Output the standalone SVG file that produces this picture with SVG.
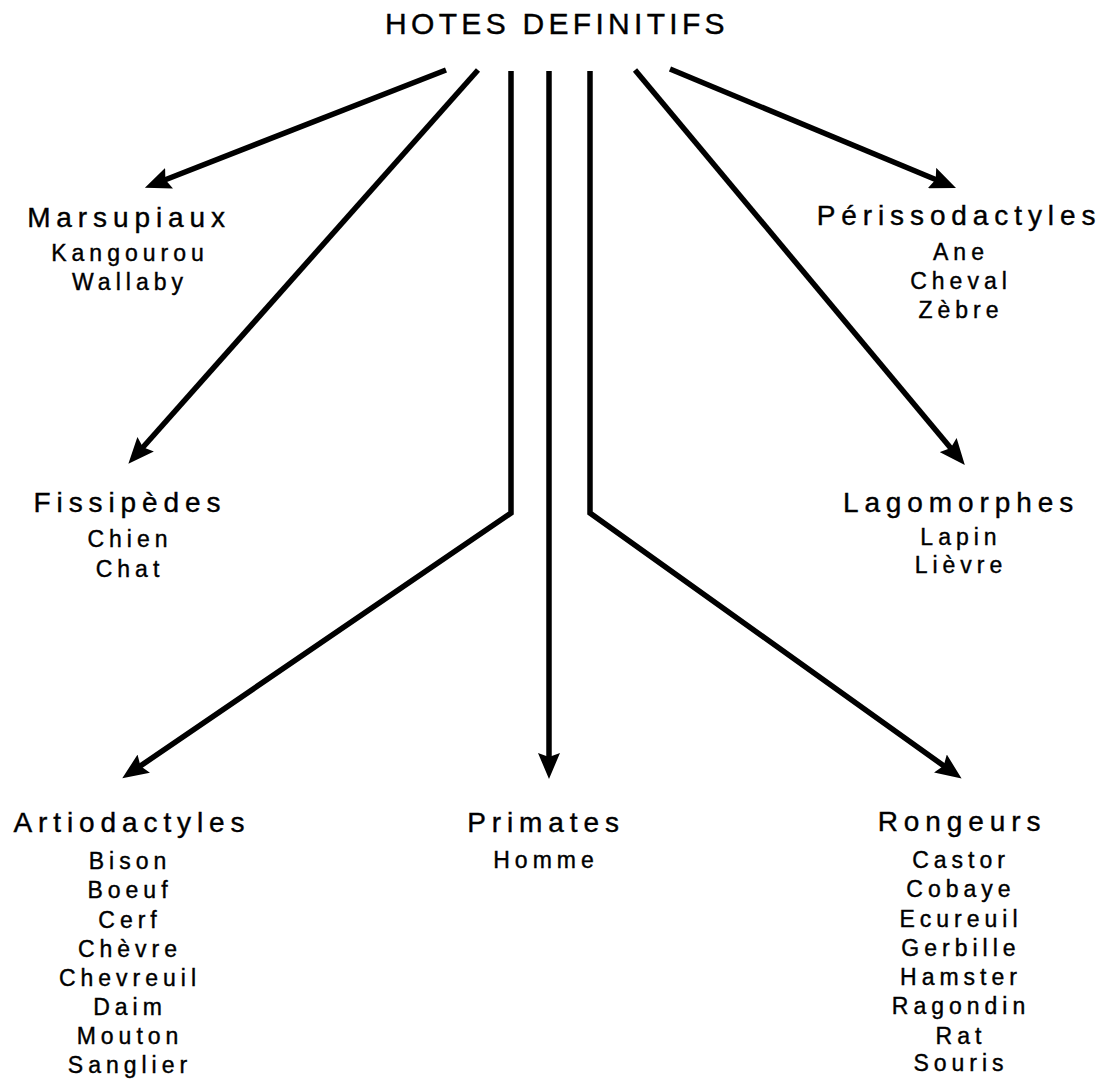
<svg xmlns="http://www.w3.org/2000/svg" width="1103" height="1082" viewBox="0 0 1103 1082">
<style>
text{font-family:"Liberation Sans",Arial,sans-serif;fill:#000;stroke:#000;stroke-width:0.4;text-anchor:middle}
.title{font-size:30px;letter-spacing:4.3px}
.hd{font-size:28px;letter-spacing:5.9px}
.it{font-size:23px;letter-spacing:5px}
.c{fill:none;stroke:#000;stroke-width:5.5;stroke-linejoin:miter;marker-end:url(#ah)}
</style>
<defs>
<marker id="ah" viewBox="0 0 26 22" refX="13" refY="11" markerUnits="userSpaceOnUse" markerWidth="26" markerHeight="22" orient="auto">
<path d="M0,0 L26,11 L0,22 L4,11 Z" fill="#000"/>
</marker>
</defs>
<rect width="1103" height="1082" fill="#fff"/>
<g id="title"><text class="title" x="557" y="34">HOTES DEFINITIFS</text></g>
<g id="connectors">
<path class="c" d="M446,70 L157,183"/>
<path class="c" d="M478,70 L137,454"/>
<path class="c" d="M511,71 L511,513 L133,771"/>
<path class="c" d="M549,71 L549,766"/>
<path class="c" d="M590,71 L590,513 L951,771"/>
<path class="c" d="M635,70 L956.5,455"/>
<path class="c" d="M670,69 L944,183"/>
</g>
<g id="marsupiaux">
<text class="hd" x="129" y="227">Marsupiaux</text>
<text class="it" x="130" y="261">Kangourou</text>
<text class="it" x="130" y="290">Wallaby</text>
</g>
<g id="perissodactyles">
<text class="hd" x="959" y="225">Périssodactyles</text>
<text class="it" x="961" y="260">Ane</text>
<text class="it" x="961" y="289">Cheval</text>
<text class="it" x="961" y="318">Zèbre</text>
</g>
<g id="fissipedes">
<text class="hd" x="130" y="512">Fissipèdes</text>
<text class="it" x="130" y="547">Chien</text>
<text class="it" x="130" y="577">Chat</text>
</g>
<g id="lagomorphes">
<text class="hd" x="961" y="512">Lagomorphes</text>
<text class="it" x="961" y="545">Lapin</text>
<text class="it" x="961" y="573">Lièvre</text>
</g>
<g id="artiodactyles">
<text class="hd" x="132" y="832">Artiodactyles</text>
<text class="it" x="130" y="869">Bison</text>
<text class="it" x="130" y="898">Boeuf</text>
<text class="it" x="130" y="928">Cerf</text>
<text class="it" x="130" y="957">Chèvre</text>
<text class="it" x="130" y="986">Chevreuil</text>
<text class="it" x="130" y="1015">Daim</text>
<text class="it" x="130" y="1044">Mouton</text>
<text class="it" x="130" y="1073">Sanglier</text>
</g>
<g id="primates">
<text class="hd" x="546" y="832">Primates</text>
<text class="it" x="546" y="868">Homme</text>
</g>
<g id="rongeurs">
<text class="hd" x="962" y="831">Rongeurs</text>
<text class="it" x="961" y="868">Castor</text>
<text class="it" x="961" y="897">Cobaye</text>
<text class="it" x="961" y="927">Ecureuil</text>
<text class="it" x="961" y="956">Gerbille</text>
<text class="it" x="961" y="985">Hamster</text>
<text class="it" x="961" y="1014">Ragondin</text>
<text class="it" x="961" y="1044">Rat</text>
<text class="it" x="961" y="1071">Souris</text>
</g>
</svg>
